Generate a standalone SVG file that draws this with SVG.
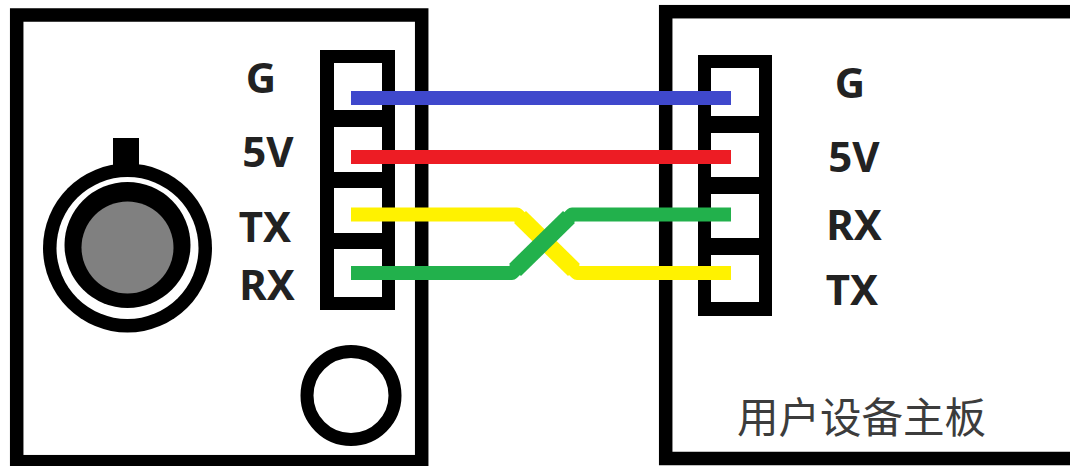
<svg xmlns="http://www.w3.org/2000/svg" width="1070" height="466" viewBox="0 0 1070 466">
<style>
.board{fill:#fff;stroke:#000;stroke-width:13.5}
.hdr{fill:#000}
.cell{fill:#fff}
.pin{font-family:"Noto Sans","Open Sans","Liberation Sans",sans-serif;font-weight:700;font-size:42px;fill:#222;text-anchor:middle}
.cn{font-family:"Noto Sans CJK SC","Noto Sans",sans-serif;font-size:41.5px;fill:#3c3c3c}
.wire{fill:none;stroke-width:14;stroke-linejoin:round}
.diag{fill:none;stroke-width:17}
</style>
<rect width="1070" height="466" fill="#fff"/>
<g id="left-board">
<rect class="board" x="16.700" y="15" width="405" height="446.700"/>
<rect class="hdr" x="320" y="50" width="75" height="260"/>
<rect class="cell" x="334" y="63" width="48" height="47"/>
<rect class="cell" x="334" y="127" width="48" height="45"/>
<rect class="cell" x="334" y="188" width="48" height="45"/>
<rect class="cell" x="334" y="249" width="48" height="48"/>
<rect x="113" y="138" width="26" height="34" fill="#000"/>
<circle cx="127.500" cy="248" r="84.500" fill="#000"/>
<circle cx="127.500" cy="248" r="71" fill="#fff"/>
<circle cx="127.500" cy="245" r="63" fill="#000"/>
<circle cx="127.500" cy="247.500" r="46" fill="#808080"/>
<circle cx="351" cy="395.500" r="44" fill="#fff" stroke="#000" stroke-width="13"/>
<text class="pin" x="261" y="93">G</text>
<text class="pin" x="268" y="167">5V</text>
<text class="pin" x="265" y="242">TX</text>
<text class="pin" x="267" y="300">RX</text>
</g>
<g id="right-board">
<rect class="board" x="665.700" y="11.700" width="420" height="446.800"/>
<rect class="hdr" x="698" y="55" width="74" height="261"/>
<rect class="cell" x="711" y="68" width="48" height="48"/>
<rect class="cell" x="711" y="133" width="48" height="44"/>
<rect class="cell" x="711" y="194" width="48" height="44"/>
<rect class="cell" x="711" y="255" width="48" height="47"/>
<text class="pin" x="850" y="98">G</text>
<text class="pin" x="854" y="172">5V</text>
<text class="pin" x="854" y="240">RX</text>
<text class="pin" x="852" y="305">TX</text>
<text class="cn" x="737" y="433">用户设备主板</text>
</g>
<g id="connectors">
<path class="wire" stroke="#3f48cc" d="M351 98H731"/>
<path class="wire" stroke="#ed1c24" d="M351 157H731"/>
<path class="wire" stroke="#fff200" d="M351 214.500H517L577 273H731"/>
<path class="diag" stroke="#fff200" d="M520 217L574 270"/>
<path class="wire" stroke="#22b14c" d="M351 273H512L572 214.500H731"/>
<path class="diag" stroke="#22b14c" d="M515 270L569 217"/>
</g>
</svg>
